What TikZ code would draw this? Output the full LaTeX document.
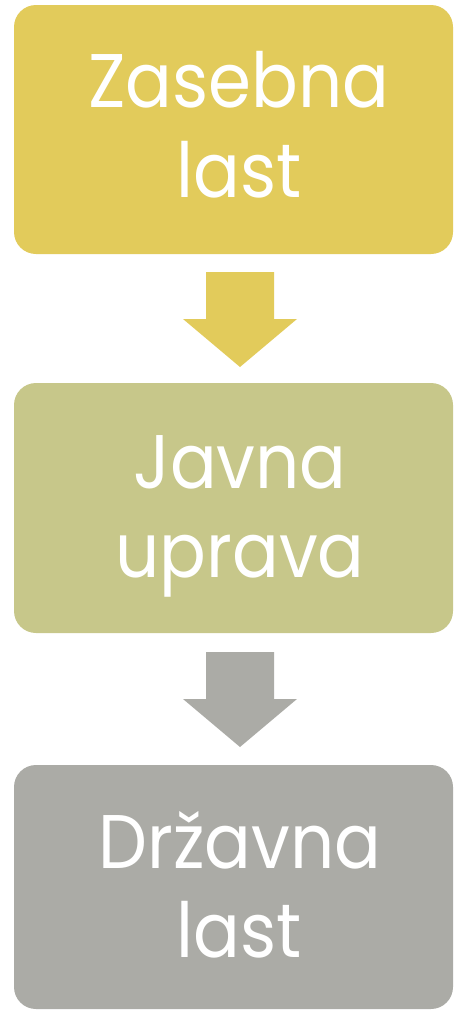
\documentclass[tikz,border=0pt]{standalone}
\usepackage{fontspec}
\setmainfont{Poppins}
\definecolor{cyellow}{HTML}{E2CB5B}
\definecolor{colive}{HTML}{C7C78A}
\definecolor{cgray}{HTML}{ABABA6}
\newcommand{\narrowtxt}[1]{\scalebox{0.91}[1]{#1}}
\begin{document}
\begin{tikzpicture}[x=1pt,y=-1pt,
  box/.style={rounded corners=22pt},
  lbl/.style={anchor=base,text=white,inner sep=0pt,font=\fontsize{76}{90}\selectfont}]
\useasboundingbox (0,0) rectangle (454,1010);
% boxes
\fill[cyellow,box] (14,5) rectangle (453,254);
\fill[colive,box] (14,383) rectangle (453,633);
\fill[cgray,box] (14,765) rectangle (453,1009);
% labels
\node[lbl] (t1a) at (239,107) {\narrowtxt{Zasebna}};
\node[lbl] (t1b) at (239,197) {\narrowtxt{last}};
\node[lbl] (t2a) at (240,488) {\narrowtxt{Javna}};
\node[lbl] (t2b) at (240,577) {\narrowtxt{uprava}};
\node[lbl] (t3a) at (240,868) {\narrowtxt{Državna}};
\node[lbl] (t3b) at (239,957) {\narrowtxt{last}};
% block arrows
\fill[cyellow] (206,272) -- (274,272) -- (274,319) -- (297,319) -- (240,367) -- (183,319) -- (206,319) -- cycle;
\fill[cgray] (206,652) -- (274,652) -- (274,699) -- (297,699) -- (240,747) -- (183,699) -- (206,699) -- cycle;
\end{tikzpicture}
\end{document}
